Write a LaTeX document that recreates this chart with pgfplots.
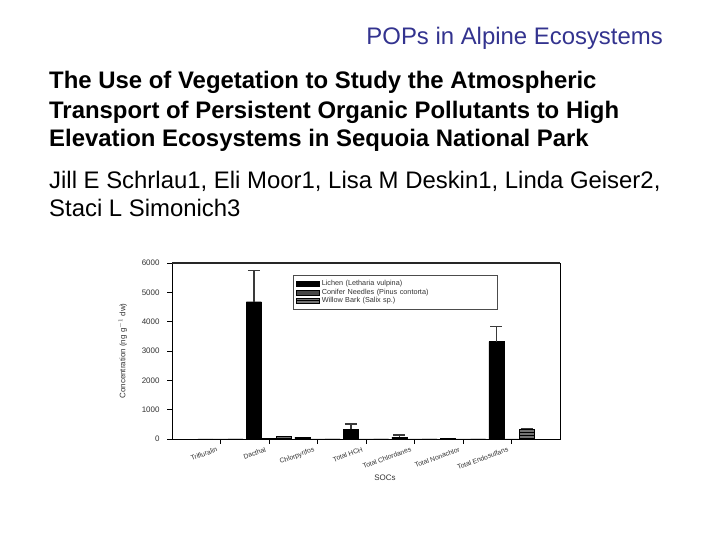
\documentclass[border=0pt]{standalone}
\usepackage{pgfplots}
\pgfplotsset{compat=1.18}
\usepackage{fontspec}
\setmainfont{Liberation Sans}
\usetikzlibrary{patterns}
\definecolor{popblue}{HTML}{33338F}
\definecolor{errgray}{HTML}{3A3A3A}

\begin{document}
\begin{tikzpicture}[x=1bp,y=1bp]
\path[use as bounding box, fill=white] (0,0) rectangle (720,540);

% slide text
\node[anchor=base east, inner sep=0, text=popblue, font=\fontsize{24}{28}\selectfont] at (663,495) {POPs in Alpine Ecosystems};
\begin{scope}[every node/.style={anchor=base west, inner sep=0, font=\fontsize{24}{28}\selectfont\bfseries}]
\node at (49,451.7) {The Use of Vegetation to Study the Atmospheric};
\node at (49,421.7) {Transport of Persistent Organic Pollutants to High};
\node at (49,393.3) {Elevation Ecosystems in Sequoia National Park};
\end{scope}
\begin{scope}[every node/.style={anchor=base west, inner sep=0, font=\fontsize{24}{28}\selectfont}]
\node at (49,351.7) {Jill E Schrlau1, Eli Moor1, Lisa M Deskin1, Linda Geiser2,};
\node at (49,323.3) {Staci L Simonich3};
\end{scope}

\begin{axis}[
  at={(172bp,101bp)}, anchor=south west,
  scale only axis, width=388bp, height=176bp,
  ybar, bar width=0.31,
  xmin=-1, xmax=7, ymin=0, ymax=6000,
  xtick={0,...,6},
  xticklabels={Trifluralin,Dacthal,Chlorpyrifos,Total HCH,Total Chlordanes,Total Nonachlor,Total Endosulfans},
  ytick={0,1000,...,6000},
  xtick pos=bottom, ytick pos=left,
  tick align=outside, major tick length=5bp,
  tick style={black, line width=0.6bp},
  axis line style={black, line width=0.7bp},
  /pgf/number format/1000 sep={},
  /pgf/number format/assume math mode=true,
  tick label style={text=black!80},
  yticklabel style={font=\fontsize{8}{9}\selectfont, xshift=-4bp},
  xticklabel style={font=\fontsize{6.8}{8}\selectfont, rotate=20, anchor=north east, inner sep=1bp, xshift=-4bp},
  xlabel={SOCs}, ylabel={Concentration (ng g$^{-1}$ dw)},
  label style={font=\fontsize{8}{9}\selectfont, text=black!80},
  xlabel style={xshift=19bp},
  ylabel shift=8bp,
  legend style={at={(0.312,0.932)}, anchor=north west, draw=black!70, line width=0.5bp,
    font=\fontsize{7.3}{8}\selectfont, row sep=-2bp, inner ysep=3bp,
    nodes={text width=170bp, text=black!80}},
  legend cell align=left,
  legend image code/.code={\draw[#1] (0bp,-2.5bp) rectangle (23bp,2.5bp);},
]
\addplot[fill=black, draw=black, bar shift=-0.31] coordinates {
  (0,0) (1,4680) (2,60) (3,330) (4,60) (5,15) (6,3320)};
\addplot[fill=black!72, draw=black, bar shift=0] coordinates {
  (0,0) (1,20) (2,0) (3,0) (4,0) (5,0) (6,0)};
\addplot[fill=black!55, draw=black, postaction={pattern=horizontal lines}, bar shift=0.31] coordinates {
  (0,0) (1,100) (2,0) (3,0) (4,0) (5,0) (6,340)};
\legend{Lichen (Letharia vulpina),Conifer Needles (Pinus contorta),Willow Bark (Salix sp.)}

% error bars (upper only)
\addplot[forget plot, draw=none, fill=none, bar shift=-0.31,
  error bars/.cd, y dir=plus, y explicit,
  error bar style={errgray, line width=1.4bp},
  error mark options={rotate=90, mark size=6bp, errgray, line width=1.4bp}]
  coordinates {(1,4680) +- (0,1060) (3,330) +- (0,180) (4,60) +- (0,80) (6,3320) +- (0,510)};
\addplot[forget plot, draw=none, fill=none, bar shift=0.31,
  error bars/.cd, y dir=plus, y explicit,
  error bar style={errgray, line width=1bp},
  error mark options={rotate=90, mark size=6bp, errgray, line width=1bp}]
  coordinates {(6,340) +- (0,20)};
\draw[line width=2bp, black!85] (rel axis cs:0,1) -- (rel axis cs:1,1);
\end{axis}
\end{tikzpicture}
\end{document}
